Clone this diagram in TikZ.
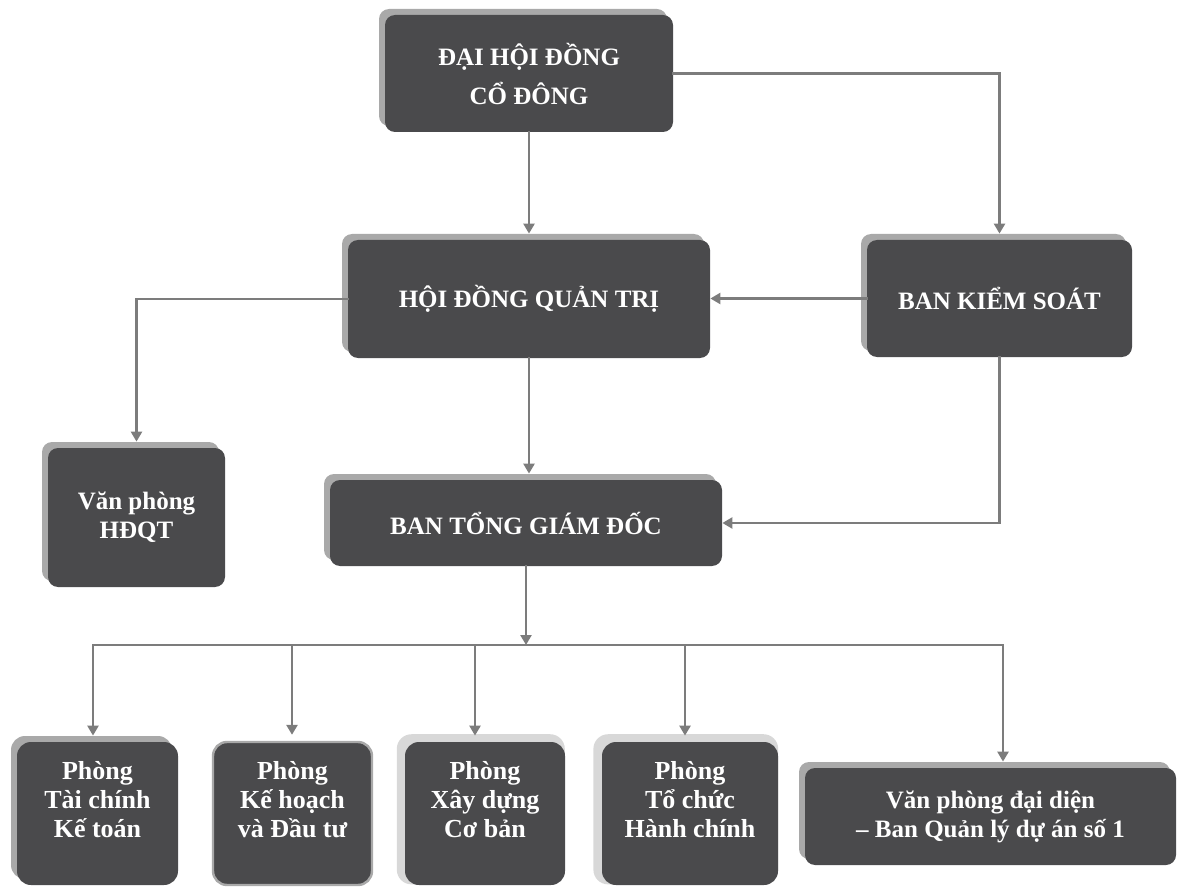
\documentclass[tikz,border=0pt]{standalone}
\usepackage{fontspec}
\setmainfont{Liberation Serif}
\usetikzlibrary{positioning,arrows.meta,shadows}
\definecolor{boxfill}{HTML}{4A4A4C}
\definecolor{boxshade}{HTML}{A9A9A9}
\definecolor{linkgray}{HTML}{7C7C7C}
\tikzset{
    unit/.style={rounded corners=5pt, fill=boxfill, text=white, align=center,
        font=\bfseries\fontsize{12.5}{14.5}\selectfont, inner sep=2pt},
    unit shade/.style={general shadow={fill=boxshade, shadow xshift=-3pt, shadow yshift=3pt}},
    unit halo/.style={general shadow={fill=boxshade!45, shadow scale=1.05, shadow xshift=-2pt, shadow yshift=2pt}},
    unit rim/.style={draw=boxshade, line width=1.2pt},
    dept/.style={unit, rounded corners=7pt},
    dept text/.style={text=white, align=center, inner sep=0pt,
        font=\bfseries\fontsize{13}{14.5}\selectfont},
    dept tc/.style={unit shade},
    dept kh/.style={unit rim},
    dept xd/.style={unit halo},
    dept tchc/.style={unit halo},
    link/.style={draw=linkgray, line width=1.4pt, line cap=rect, -{Triangle[length=5pt,width=5.5pt]}},
    plain link/.style={draw=linkgray, line width=1.4pt, line cap=rect},
}
\begin{document}
\begin{tikzpicture}[x=0.5pt, y=-0.5pt]
    \useasboundingbox (0,0) rectangle (1180,888);

    % general meeting
    \node [unit, unit shade, minimum width=144pt, minimum height=58.5pt] (dhdcd) at (529,73.5)
        {ĐẠI HỘI ĐỒNG\\[5pt]CỔ ĐÔNG};

    % board and supervisors
    \node [unit, unit shade, minimum width=181pt, minimum height=59pt] (hdqt) at (529,299)
        {HỘI ĐỒNG QUẢN TRỊ};
    \node [unit, unit shade, minimum width=132.5pt, minimum height=58.5pt] (bks) at (999.5,298.5)
        {BAN KIỂM SOÁT};

    % board office and management
    \node [unit, unit shade, minimum width=88.5pt, minimum height=69.5pt] (vphdqt) at (136.5,517.5)
        {Văn phòng\\HĐQT};
    \node [unit, unit shade, minimum width=196pt, minimum height=43pt] (btgd) at (526,523)
        {BAN TỔNG GIÁM ĐỐC};

    % links between the upper boxes
    \draw [link, shorten >=3pt] (dhdcd) -- (hdqt);
    \draw [link, shorten >=3pt] (dhdcd.east) -| (bks.north);
    \draw [link] (bks.west) -- (hdqt.east |- bks.west);
    \draw [link, shorten >=3pt] (hdqt.west) -| (vphdqt.north);
    \draw [link, shorten >=3pt] (hdqt.south) -- (hdqt.south |- btgd.north);
    \draw [link] (bks.south) |- (btgd.east);

    % departments
    \foreach \n/\x/\w/\d/\t in {
        tc/97.5/80.5/93/{Phòng\\Tài chính\\Kế toán},
        kh/292.5/79.5/292/{Phòng\\Kế hoạch\\và Đầu tư},
        xd/485/80/475/{Phòng\\Xây dựng\\Cơ bản},
        tchc/690/88/685/{Phòng\\Tổ chức\\Hành chính}}
    {
        \node [dept, dept \n/.try, minimum width=\w pt, minimum height=71.5pt] (\n) at (\x,813.5) {};
        \node [dept text] (\n-text) at ([yshift=7pt]\n.center) {\t};
        \coordinate (drop-\n) at (\d,645);
        \draw [link, shorten >=3pt] (drop-\n) -- (drop-\n |- \n.north);
    }

    % representative office
    \node [unit, unit shade, minimum width=185.5pt, minimum height=48.5pt] (vp) at (990.5,816.5)
        {Văn phòng đại diện\\– Ban Quản lý dự án số 1};
    \coordinate (drop-vp) at (1003,645);
    \draw [link, shorten >=3pt] (drop-vp) -- (drop-vp |- vp.north);

    % bus from management
    \draw [plain link] (drop-tc) -- (drop-vp);
    \draw [link] (btgd.south) -- (btgd.south |- drop-vp);

\end{tikzpicture}
\end{document}
